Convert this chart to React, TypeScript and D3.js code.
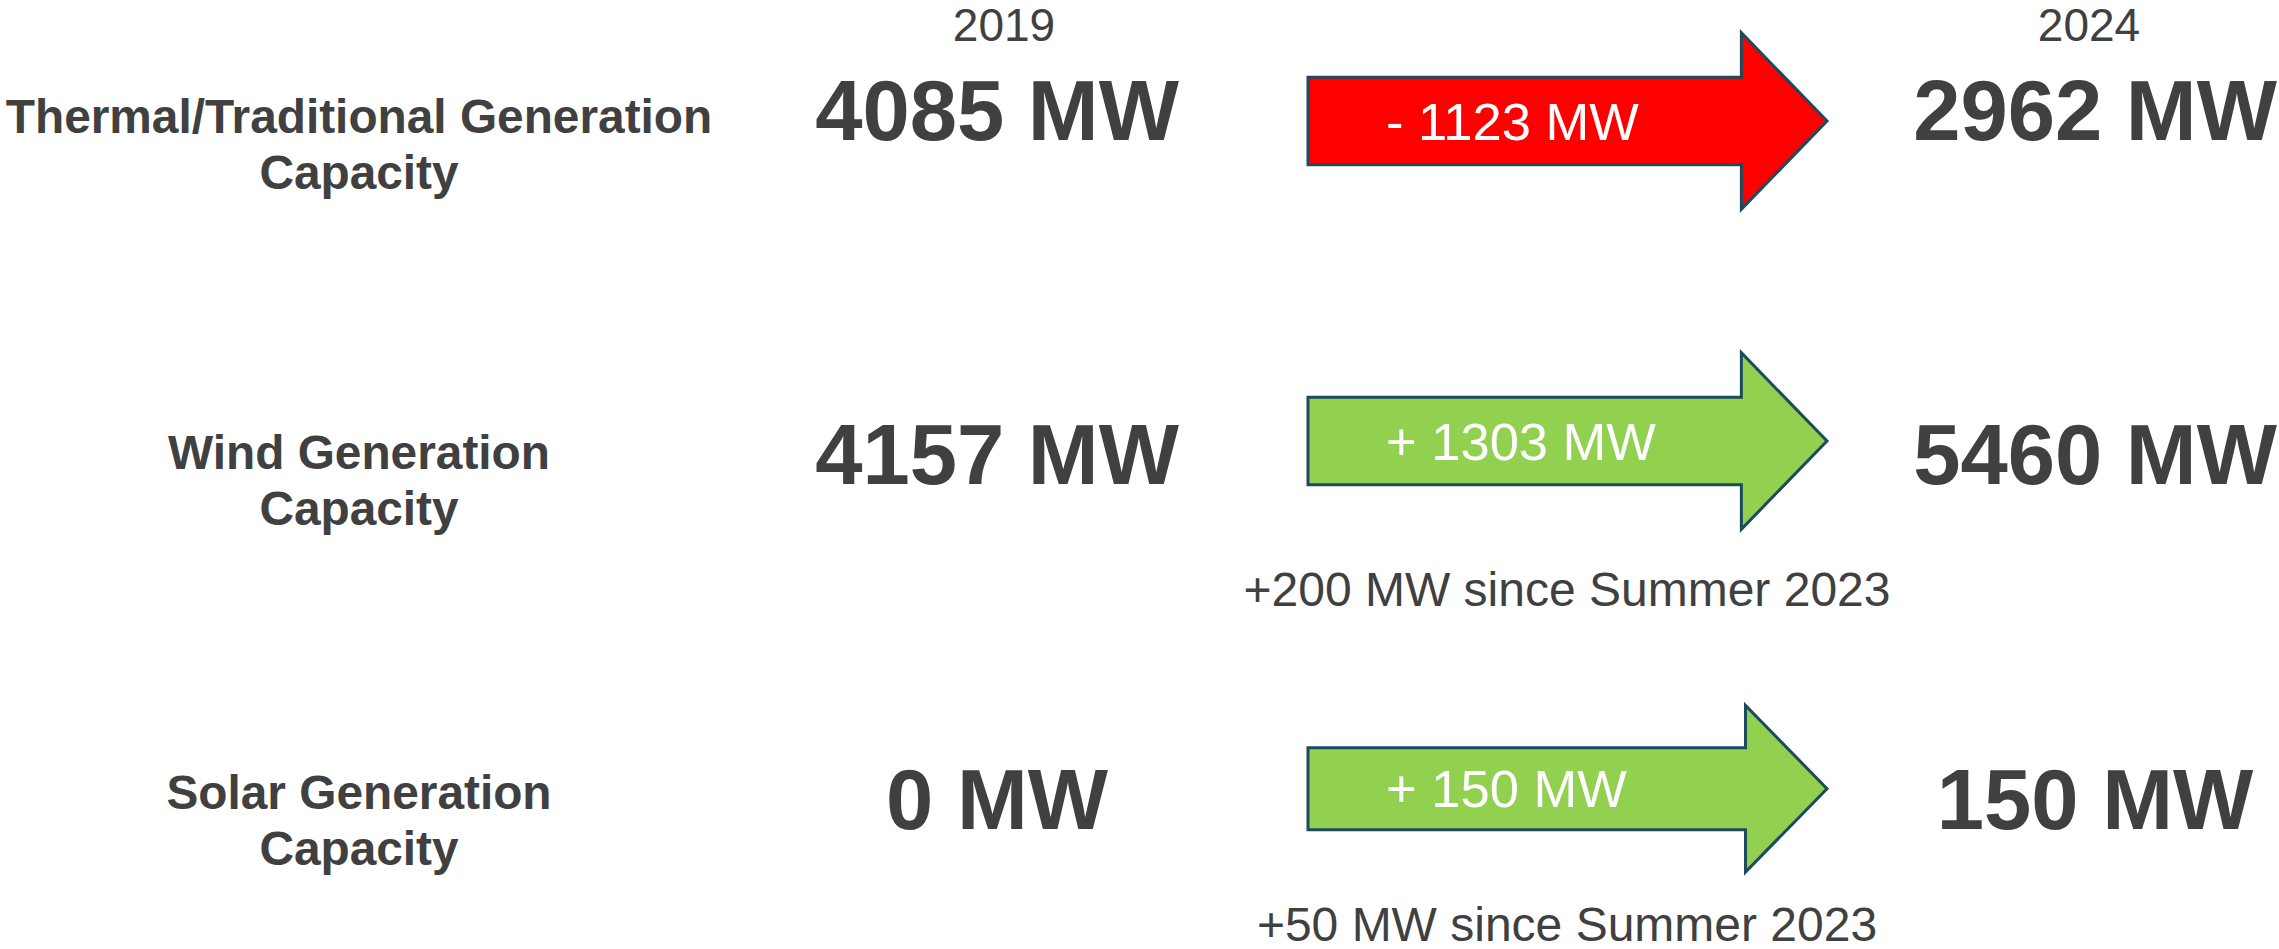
import React from "react";
import * as d3 from "d3";

// ---- data ----
const categories = ["Thermal", "Wind", "Solar"];
const labelLines = [
  ["Thermal/Traditional Generation", "Capacity"],
  ["Wind Generation", "Capacity"],
  ["Solar Generation", "Capacity"],
];
const years = ["2019", "2024"];
const values2019 = [4085, 4157, 0];
const values2024 = [2962, 5460, 150];
const changes = [-1123, 1303, 150];
const notes = ["", "+200 MW since Summer 2023", "+50 MW since Summer 2023"];

// ---- layout ----
const W = 2279;
const H = 949;
const FONT = "Liberation Sans, Arimo, Arial, Helvetica, sans-serif";
const TEXT = "#404040";
const STROKE = "#1C4B5E";
const UP = "#92D050";
const DOWN = "#FF0000";

const arrowY = d3.scaleOrdinal<string, number>().domain(categories).range([121, 441, 788.7]);
const numberY = d3.scaleOrdinal<string, number>().domain(categories).range([140, 484, 829]);
const labelY = d3.scaleOrdinal<string, number>().domain(categories).range([133, 469, 809]);
const noteY = d3.scaleOrdinal<string, number>().domain(categories).range([0, 606, 941]);
const bodyHalf = d3.scaleOrdinal<string, number>().domain(categories).range([43.7, 43.7, 41]);
const headHalf = d3.scaleOrdinal<string, number>().domain(categories).range([88.3, 88.3, 83.3]);
const shaftEnd = d3.scaleOrdinal<string, number>().domain(categories).range([0.835, 0.835, 0.843]);

// arrow x positions along a unit scale
const ax = d3.scaleLinear().domain([0, 1]).range([1308, 1827]);
const colX = d3.scaleOrdinal<string, number>().domain(years).range([997, 2095]);
const headerX = d3.scaleOrdinal<string, number>().domain(years).range([1004, 2089]);

function arrowPath(cat: string): string {
  const cy = arrowY(cat);
  const b = bodyHalf(cat);
  const h = headHalf(cat);
  const s = shaftEnd(cat);
  const p = d3.path();
  p.moveTo(ax(0), cy - b);
  p.lineTo(ax(s), cy - b);
  p.lineTo(ax(s), cy - h);
  p.lineTo(ax(1), cy);
  p.lineTo(ax(s), cy + h);
  p.lineTo(ax(s), cy + b);
  p.lineTo(ax(0), cy + b);
  p.closePath();
  return p.toString();
}

const fmtChange = (v: number) => (v < 0 ? `- ${Math.abs(v)} MW` : `+ ${v} MW`);

export default function App() {
  return (
    <svg
      width={W}
      height={H}
      viewBox={`0 0 ${W} ${H}`}
      style={{ position: "absolute", left: 0, top: 0, background: "#fff", fontFamily: FONT }}
    >
      <rect x={0} y={0} width={W} height={H} fill="#ffffff" />
      {years.map((y) => (
        <text key={y} x={headerX(y)} y={41} textAnchor="middle" fontSize={46} fill={TEXT}>
          {y}
        </text>
      ))}
      {categories.map((cat, i) => (
        <g key={cat}>
          {labelLines[i].map((line, j) => (
            <text
              key={j}
              x={359}
              y={labelY(cat) + j * 56}
              textAnchor="middle"
              fontSize={47.8}
              fontWeight="bold"
              fill={TEXT}
            >
              {line}
            </text>
          ))}
          <text x={colX("2019")} y={numberY(cat)} textAnchor="middle" fontSize={85} fontWeight="bold" fill={TEXT}>
            {`${values2019[i]} MW`}
          </text>
          <text x={colX("2024")} y={numberY(cat)} textAnchor="middle" fontSize={85} fontWeight="bold" fill={TEXT}>
            {`${values2024[i]} MW`}
          </text>
          <path
            d={arrowPath(cat)}
            fill={changes[i] < 0 ? DOWN : UP}
            stroke={STROKE}
            strokeWidth={3}
            strokeLinejoin="miter"
          />
          <text x={1386} y={arrowY(cat) + 18.5} fontSize={52.5} fill="#ffffff">
            {fmtChange(changes[i])}
          </text>
          {notes[i] && (
            <text x={1567} y={noteY(cat)} textAnchor="middle" fontSize={48} fill={TEXT}>
              {notes[i]}
            </text>
          )}
        </g>
      ))}
    </svg>
  );
}
